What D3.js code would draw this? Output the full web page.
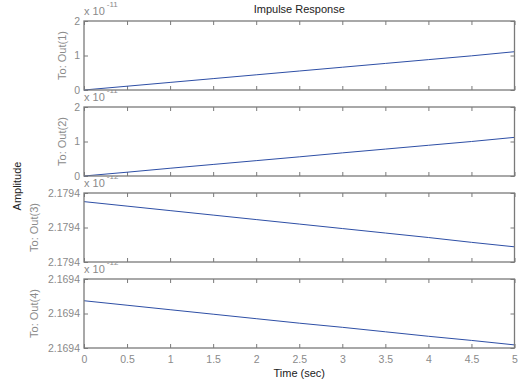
<!DOCTYPE html>
<html><head><meta charset="utf-8">
<script src="https://cdn.jsdelivr.net/npm/d3@7"></script>
<style>body{margin:0;background:#fff}svg{display:block;font-family:"Liberation Sans",Arial,sans-serif}</style>
</head><body><svg id="c" width="518" height="389"></svg>
<script>
const times = [0,0.5,1,1.5,2,2.5,3,3.5,4,4.5,5];
const out1 = [0,0.11,0.22,0.33,0.44,0.55,0.66,0.77,0.88,0.99,1.11];
const out2 = [0,0.11,0.225,0.335,0.445,0.555,0.67,0.78,0.89,1.0,1.12];
const out3 = [1.75,1.62,1.49,1.36,1.23,1.10,0.97,0.84,0.71,0.57,0.44];
const out4 = [1.37,1.24,1.11,0.98,0.85,0.72,0.60,0.47,0.34,0.22,0.09];
const seriesNames = ["To: Out(1)","To: Out(2)","To: Out(3)","To: Out(4)"];
const exponents = ["-11","-11","-12","-12"];
const yTickValues = [0,1,2];
const yTickLabels = [["0","1","2"],["0","1","2"],["2.1794","2.1794","2.1794"],["2.1694","2.1694","2.1694"]];
const xTickValues = [0,0.5,1,1.5,2,2.5,3,3.5,4,4.5,5];
const xTickLabels = ["0","0.5","1","1.5","2","2.5","3","3.5","4","4.5","5"];
const allSeries = [out1,out2,out3,out4];

const svg = d3.select("#c");
const left = 84, right = 514.5, panelH = 69, panelGap = 86, firstTop = 21;
const gray = "#8a8a8a", frame = "#7a7a7a", lineColor = "#2e4fa6";
const x = d3.scaleLinear().domain([0,5]).range([left,right]);

// exponent labels first (partially covered by panel above)
allSeries.forEach((s,i)=>{
  const top = firstTop + i*panelGap;
  const t = svg.append("text").attr("x",left).attr("y",top-6.5).attr("fill",gray).attr("font-size",11);
  t.append("tspan").text("x 10");
  t.append("tspan").attr("dx",2).attr("dy",-8).attr("font-size",8).text(exponents[i]);
});

allSeries.forEach((s,i)=>{
  const top = firstTop + i*panelGap;
  const y = d3.scaleLinear().domain([0,2]).range([top+panelH, top]);
  const g = svg.append("g");
  g.append("rect").attr("x",left).attr("y",top).attr("width",right-left).attr("height",panelH).attr("fill","#fff");
  const xb = d3.axisBottom(x).tickValues(xTickValues).tickSizeInner(-4).tickSizeOuter(0).tickFormat((d,k)=> i===3 ? xTickLabels[k] : "");
  const xt = d3.axisTop(x).tickValues(xTickValues).tickSizeInner(-4).tickSizeOuter(0).tickFormat("");
  const yl = d3.axisLeft(y).tickValues(yTickValues).tickSizeInner(-4).tickSizeOuter(0).tickFormat((d,k)=>yTickLabels[i][k]);
  const yr = d3.axisRight(y).tickValues(yTickValues).tickSizeInner(-4).tickSizeOuter(0).tickFormat("");
  const axes = [
    g.append("g").attr("transform",`translate(0,${top+panelH})`).call(xb),
    g.append("g").attr("transform",`translate(0,${top})`).call(xt),
    g.append("g").attr("transform",`translate(${left},0)`).call(yl),
    g.append("g").attr("transform",`translate(${right},0)`).call(yr)
  ];
  axes.forEach(a=>{
    a.select(".domain").remove();
    a.selectAll(".tick line").attr("stroke",frame).attr("stroke-width",1);
    a.selectAll(".tick text").attr("fill",gray).attr("font-size",10.5).attr("font-family","'Liberation Sans',Arial,sans-serif");
  });
  axes[0].selectAll(".tick text").attr("dy","0.71em").attr("y",8);
  axes[2].selectAll(".tick text").attr("x",-4);
  const line = d3.line().x((d,k)=>x(times[k])).y(d=>y(d));
  g.append("path").datum(s).attr("d",line).attr("fill","none").attr("stroke",lineColor).attr("stroke-width",1);
  g.append("rect").attr("x",left).attr("y",top).attr("width",right-left).attr("height",panelH)
    .attr("fill","none").attr("stroke",frame).attr("stroke-width",1.3);
  const lx = i < 2 ? 66 : 38;
  svg.append("text").attr("transform",`translate(${lx},${top+panelH/2}) rotate(-90)`)
    .attr("text-anchor","middle").attr("fill",gray).attr("font-size",11).text(seriesNames[i]);
});

svg.append("text").attr("x",(left+right)/2).attr("y",13).attr("text-anchor","middle")
  .attr("fill","#222").attr("font-size",11).text("Impulse Response");
svg.append("text").attr("x",(left+right)/2).attr("y",377).attr("text-anchor","middle")
  .attr("fill","#222").attr("font-size",11).text("Time (sec)");
svg.append("text").attr("transform",`translate(21,186) rotate(-90)`).attr("text-anchor","middle")
  .attr("fill","#222").attr("font-size",11).text("Amplitude");
</script></body></html>
